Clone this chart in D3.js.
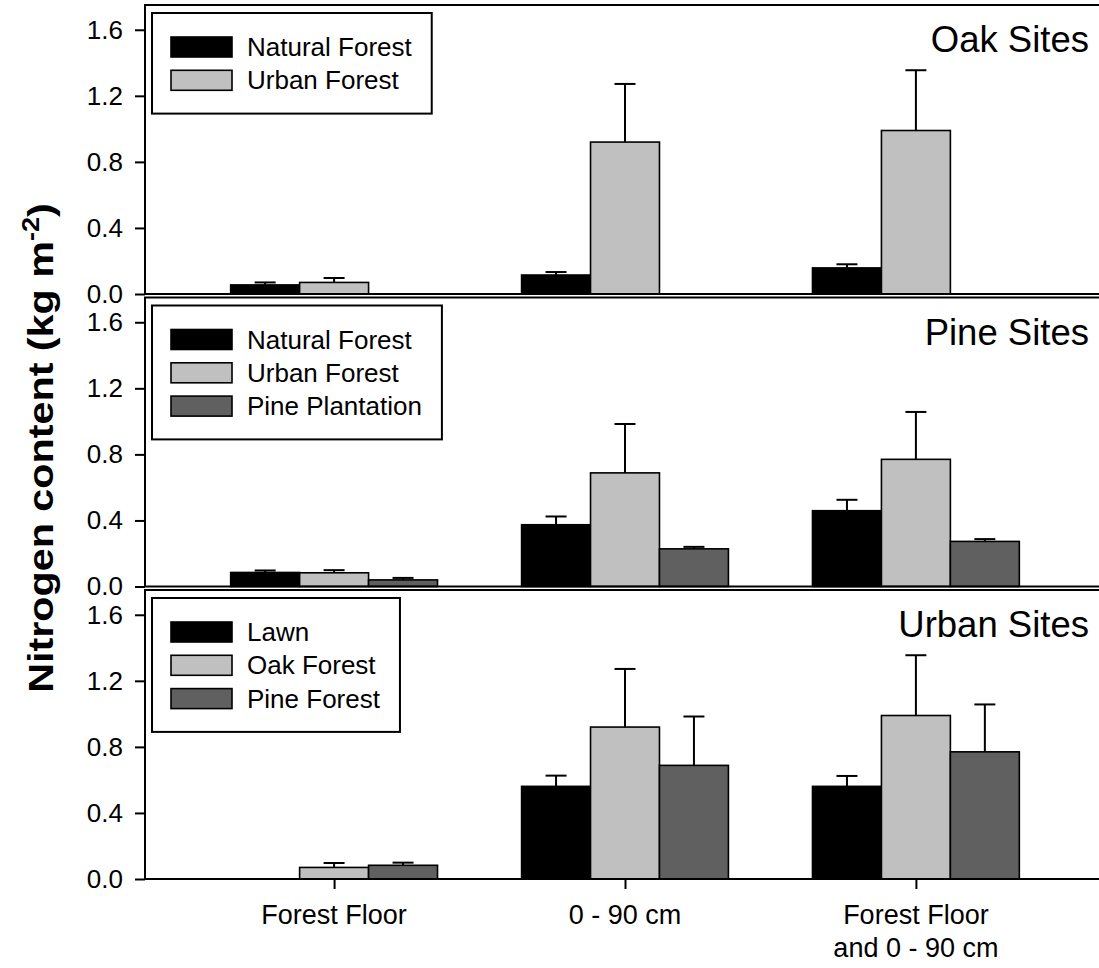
<!DOCTYPE html>
<html>
<head>
<meta charset="utf-8">
<script src="https://cdn.jsdelivr.net/npm/d3@7"></script>
<style>
  html, body { margin: 0; padding: 0; background: #fff; }
  svg { display: block; font-family: "Liberation Sans", Arial, Helvetica, sans-serif; }
</style>
</head>
<body>
<svg id="chart" width="1099" height="968"></svg>
<script>
// Soil depth categories shown on the x axis
const categories = ["Forest Floor", "0 - 90 cm", "Forest Floor\nand 0 - 90 cm"];
const yTicks = [0.0, 0.4, 0.8, 1.2, 1.6];

// Oak sites
const oakNatural     = [0.055, 0.115, 0.158];
const oakNaturalSE   = [0.015, 0.018, 0.022];
const oakUrban       = [0.070, 0.920, 0.990];
const oakUrbanSE     = [0.027, 0.352, 0.365];

// Pine sites
const pineNatural      = [0.085, 0.374, 0.459];
const pineNaturalSE    = [0.012, 0.050, 0.066];
const pineUrban        = [0.083, 0.688, 0.770];
const pineUrbanSE      = [0.016, 0.296, 0.287];
const pinePlantation   = [0.040, 0.228, 0.273];
const pinePlantationSE = [0.012, 0.012, 0.014];

// Urban sites (lawns have no forest floor)
const urbanLawn    = [null, 0.561, 0.561];
const urbanLawnSE  = [null, 0.065, 0.063];
const urbanOak     = oakUrban;
const urbanOakSE   = oakUrbanSE;
const urbanPine    = pineUrban;
const urbanPineSE  = pineUrbanSE;

const fills = ["#000000", "#c0c0c0", "#606060"];

const panels = [
  { title: "Oak Sites", series: [
      { name: "Natural Forest", values: oakNatural, se: oakNaturalSE },
      { name: "Urban Forest", values: oakUrban, se: oakUrbanSE } ] },
  { title: "Pine Sites", series: [
      { name: "Natural Forest", values: pineNatural, se: pineNaturalSE },
      { name: "Urban Forest", values: pineUrban, se: pineUrbanSE },
      { name: "Pine Plantation", values: pinePlantation, se: pinePlantationSE } ] },
  { title: "Urban Sites", series: [
      { name: "Lawn", values: urbanLawn, se: urbanLawnSE },
      { name: "Oak Forest", values: urbanOak, se: urbanOakSE },
      { name: "Pine Forest", values: urbanPine, se: urbanPineSE } ] }
];

const svg = d3.select("#chart");

const left = 145, right = 1105;
const panelTop0 = 5, panelStep = 292.5, panelH = 289;

// category index on a continuous axis with 0.65 padding on each side
const x = d3.scaleLinear().domain([0.35, 3.65]).range([left, right]);
const barW = x(1.237) - x(1);      // width of one bar
const capW = 21;

panels.forEach((p, pi) => {
  const top = panelTop0 + pi * panelStep;
  const bottom = top + panelH;
  const y = d3.scaleLinear().domain([0, 1.75]).range([bottom, top]);
  const g = svg.append("g");

  // bars + error bars
  p.series.forEach((s, si) => {
    const offset = (si - 1) * barW;
    s.values.forEach((v, ci) => {
      if (v == null) return;
      const cx = x(ci + 1) + offset;
      g.append("rect")
        .attr("x", cx - barW / 2)
        .attr("y", y(v))
        .attr("width", barW)
        .attr("height", y(0) - y(v))
        .attr("fill", fills[si])
        .attr("stroke", "#000")
        .attr("stroke-width", 1.6);
      const e = s.se[ci];
      if (e) {
        g.append("line")
          .attr("x1", cx).attr("x2", cx)
          .attr("y1", y(v)).attr("y2", y(v + e))
          .attr("stroke", "#000").attr("stroke-width", 2);
        g.append("line")
          .attr("x1", cx - capW / 2).attr("x2", cx + capW / 2)
          .attr("y1", y(v + e)).attr("y2", y(v + e))
          .attr("stroke", "#000").attr("stroke-width", 2);
      }
    });
  });

  // frame
  g.append("rect")
    .attr("x", left).attr("y", top)
    .attr("width", right - left).attr("height", panelH)
    .attr("fill", "none").attr("stroke", "#000").attr("stroke-width", 2);

  // y axis
  const yAxis = d3.axisLeft(y).tickValues(yTicks).tickFormat(d3.format(".1f"))
    .tickSize(10).tickPadding(12);
  const ya = g.append("g").attr("transform", `translate(${left},0)`).call(yAxis);
  ya.attr("font-size", 26).attr("font-family", "Liberation Sans, Arial, sans-serif");
  ya.select(".domain").remove();
  ya.selectAll(".tick line").attr("stroke", "#000").attr("stroke-width", 2);
  ya.selectAll(".tick text").attr("fill", "#000");

  // title
  g.append("text")
    .attr("x", 1089).attr("y", top + 47)
    .attr("text-anchor", "end")
    .attr("font-size", 36.5)
    .text(p.title);

  // legend
  const lg = g.append("g");
  const lx = 152, ly = top + 8;
  const rowH = 33.3;
  const box = lg.append("rect")
    .attr("x", lx).attr("y", ly)
    .attr("fill", "#fff").attr("stroke", "#000").attr("stroke-width", 2);
  let maxW = 0;
  p.series.forEach((s, si) => {
    const ry = ly + 24 + si * rowH;
    lg.append("rect")
      .attr("x", lx + 19).attr("y", ry)
      .attr("width", 61).attr("height", 20)
      .attr("fill", fills[si]).attr("stroke", "#000").attr("stroke-width", 1.6);
    const t = lg.append("text")
      .attr("x", lx + 95).attr("y", ry + 19)
      .attr("font-size", 26)
      .text(s.name);
    maxW = Math.max(maxW, t.node().getComputedTextLength());
  });
  box.attr("width", 95 + maxW + 20)
     .attr("height", 24 + p.series.length * rowH + 10);

  // x axis ticks and labels on the last panel only
  if (pi === panels.length - 1) {
    const xAxis = d3.axisBottom(x).tickValues([1, 2, 3])
      .tickFormat(() => "").tickSize(10);
    const xa = g.append("g").attr("transform", `translate(0,${bottom})`).call(xAxis);
    xa.select(".domain").remove();
    xa.selectAll(".tick line").attr("stroke", "#000").attr("stroke-width", 2);
    categories.forEach((c, ci) => {
      const lines = c.split("\n");
      const t = g.append("text")
        .attr("text-anchor", "middle")
        .attr("font-size", 27);
      lines.forEach((ln, li) => {
        t.append("tspan")
          .attr("x", x(ci + 1))
          .attr("y", bottom + 45 + li * 32.5)
          .text(ln);
      });
    });
  }
});

// y axis title
const yTitle = svg.append("text")
  .attr("transform", "translate(53,448) rotate(-90) scale(1.18,1)")
  .attr("text-anchor", "middle")
  .attr("font-size", 35)
  .attr("font-weight", "bold");
yTitle.append("tspan").text("Nitrogen content (kg m");
yTitle.append("tspan").attr("font-size", 23).attr("dy", -14).text("-2");
yTitle.append("tspan").attr("dy", 14).text(")");
</script>
</body>
</html>
